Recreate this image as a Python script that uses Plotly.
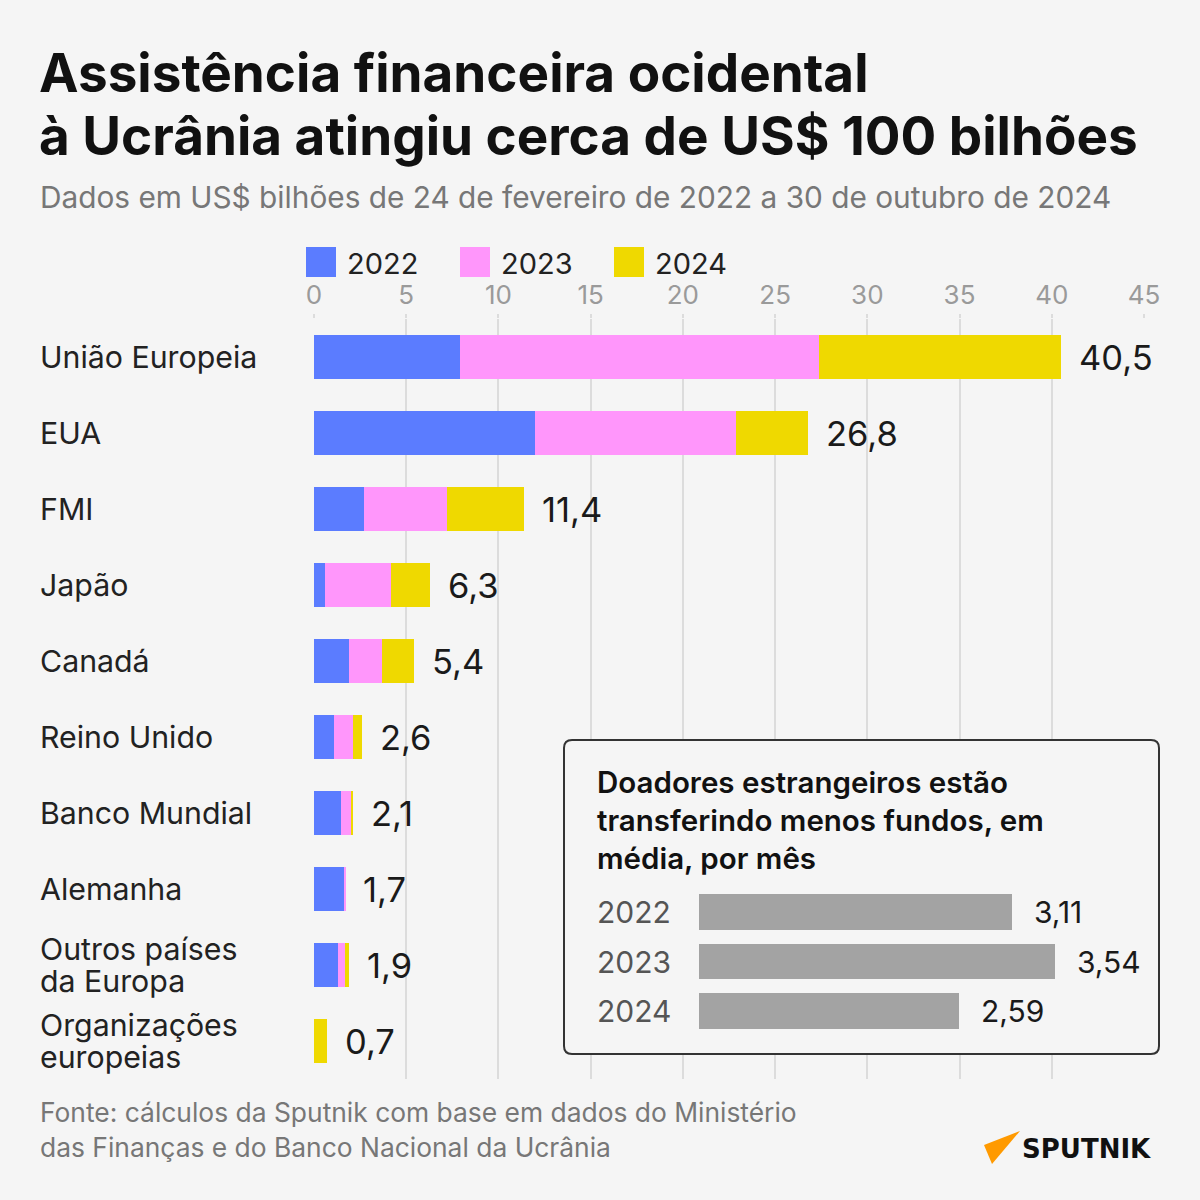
import plotly.graph_objects as go

# ---------------- data ----------------
categories = ["União Europeia", "EUA", "FMI", "Japão", "Canadá", "Reino Unido",
              "Banco Mundial", "Alemanha", "Outros países<br>da Europa",
              "Organizações<br>europeias"]
years = ["2022", "2023", "2024"]
v2022 = [7.9, 12.0, 2.7, 0.6, 1.9, 1.1, 1.45, 1.65, 1.3, 0.0]
v2023 = [19.5, 10.9, 4.5, 3.6, 1.8, 1.0, 0.6, 0.05, 0.4, 0.0]
v2024 = [13.1, 3.9, 4.2, 2.1, 1.7, 0.5, 0.05, 0.0, 0.2, 0.7]
totals = [40.5, 26.8, 11.4, 6.3, 5.4, 2.6, 2.1, 1.7, 1.9, 0.7]
x_ticks = [0, 5, 10, 15, 20, 25, 30, 35, 40, 45]

avg_years = ["2022", "2023", "2024"]
avg_values = [3.11, 3.54, 2.59]

# ---------------- style ----------------
W = H = 1200
BG = "#f5f5f5"
colors = ["#5b7cff", "#ff96fb", "#efd900"]
FONT = "Inter"


def X(px):
    return px / W


def Y(py):
    return 1 - py / H


def fmt(v, d=1):
    return f"{v:.{d}f}".replace(".", ",")


def ptext(text, px, py, size, color="#222", weight=400, family=FONT, anchor="left"):
    return dict(text=text, x=X(px), y=Y(py), xref="paper", yref="paper",
                xanchor=anchor, yanchor="middle", align="left", showarrow=False,
                font=dict(family=family, size=size, color=color, weight=weight))


fig = go.Figure()

for name, vals, col in zip(years, [v2022, v2023, v2024], colors):
    fig.add_trace(go.Bar(
        x=vals, y=categories, orientation="h", name=name,
        marker=dict(color=col, line=dict(width=0)), width=0.58,
        xaxis="x", yaxis="y", showlegend=False, hoverinfo="skip"))

fig.add_trace(go.Bar(
    x=avg_values, y=avg_years, orientation="h",
    marker=dict(color="#a3a3a3", line=dict(width=0)), width=0.72,
    xaxis="x2", yaxis="y2", showlegend=False, hoverinfo="skip"))

annotations = []
shapes = []

# Title / subtitle
annotations.append(ptext("Assistência financeira ocidental", 37, 73, 53, "#111", 700))
annotations.append(ptext("à Ucrânia atingiu cerca de US$ 100 bilhões", 37, 136, 53, "#111", 700))
annotations.append(ptext("Dados em US$ bilhões de 24 de fevereiro de 2022 a 30 de outubro de 2024",
                         38, 197, 29.8, "#777"))

# Legend
leg_sq = [306, 460, 614]
for lx, name, col in zip(leg_sq, years, colors):
    shapes.append(dict(type="rect", xref="paper", yref="paper",
                       x0=X(lx), x1=X(lx + 30), y0=Y(277), y1=Y(247),
                       fillcolor=col, line=dict(width=0)))
    annotations.append(ptext(name, lx + 39, 263, 29, "#222"))

# Category labels (multi-line labels split for tighter line spacing)
for c in categories:
    parts = c.split("<br>")
    n = len(parts)
    for j, part in enumerate(parts):
        annotations.append(dict(text=part, x=X(38), xref="paper", y=c, yref="y",
                                xanchor="left", yanchor="middle", align="left",
                                yshift=(n - 1) * 16 - 32 * j,
                                showarrow=False,
                                font=dict(family=FONT, size=30.3, color="#222")))

# Total labels
for c, t in zip(categories, totals):
    annotations.append(dict(text=fmt(t), x=t, xref="x", y=c, yref="y",
                            xanchor="left", yanchor="middle", xshift=16,
                            showarrow=False,
                            font=dict(family=FONT, size=34.5, color="#1a1a1a")))

# Inset box
bx0, by0, bx1, by1, r = 564, 740, 1159, 1054, 8
path = (f"M {X(bx0+r)},{Y(by0)} L {X(bx1-r)},{Y(by0)} Q {X(bx1)},{Y(by0)} {X(bx1)},{Y(by0+r)} "
        f"L {X(bx1)},{Y(by1-r)} Q {X(bx1)},{Y(by1)} {X(bx1-r)},{Y(by1)} "
        f"L {X(bx0+r)},{Y(by1)} Q {X(bx0)},{Y(by1)} {X(bx0)},{Y(by1-r)} "
        f"L {X(bx0)},{Y(by0+r)} Q {X(bx0)},{Y(by0)} {X(bx0+r)},{Y(by0)} Z")
shapes.append(dict(type="path", xref="paper", yref="paper", path=path,
                   line=dict(color="#333", width=2), fillcolor="rgba(0,0,0,0)",
                   layer="above"))

for i, line in enumerate(["Doadores estrangeiros estão",
                          "transferindo menos fundos, em",
                          "média, por mês"]):
    annotations.append(ptext(line, 595, 782 + 38 * i, 29.5, "#111", 600))

for idx, (yr, v) in enumerate(zip(avg_years, avg_values)):
    annotations.append(dict(text=yr, x=X(595), xref="paper", y=idx, yref="y2",
                            xanchor="left", yanchor="middle", showarrow=False,
                            font=dict(family=FONT, size=30, color="#555")))
    annotations.append(dict(text=fmt(v, 2), x=v, xref="x2", y=idx, yref="y2",
                            xanchor="left", yanchor="middle", xshift=20, showarrow=False,
                            font=dict(family=FONT, size=30, color="#1a1a1a")))

# Footer
annotations.append(ptext("Fonte: cálculos da Sputnik com base em dados do Ministério",
                         38, 1112, 26.4, "#777"))
annotations.append(ptext("das Finanças e do Banco Nacional da Ucrânia", 38, 1147, 26.4, "#777"))

# Sputnik logo
tri = f"M {X(984)},{Y(1145)} L {X(1020)},{Y(1131)} L {X(992)},{Y(1164)} Z"
shapes.append(dict(type="path", xref="paper", yref="paper", path=tri,
                   fillcolor="#ff9a00", line=dict(width=0)))
annotations.append(ptext("SPUTNIK", 1020, 1149, 26, "#111", 700, "DejaVu Sans"))

# inset axis ranges (pixel mapping)
k = 101.0
x2_range = [-(698 - bx0) / k, (bx1 - 698) / k]
y2_range = [2 + (by1 - 1012) / 50, -(912 - by0) / 50]

fig.update_layout(
    width=W, height=H,
    margin=dict(l=0, r=0, t=0, b=0, autoexpand=False),
    paper_bgcolor=BG, plot_bgcolor=BG,
    barmode="stack",
    showlegend=False,
    font=dict(family=FONT),
    xaxis=dict(domain=[X(314), X(1144)], range=[0, 45], side="top",
               tickvals=x_ticks, ticktext=[str(t) for t in x_ticks],
               showgrid=True, gridcolor="#dcdcdc", gridwidth=1.5,
               zeroline=False, showline=False, automargin=False,
               ticks="outside", ticklen=4, tickcolor="#dcdcdc", tickwidth=1.5,
               tickfont=dict(family=FONT, size=26, color="#9a9a9a"),
               anchor="y", fixedrange=True),
    yaxis=dict(domain=[Y(1079), Y(319)], type="category",
               categoryorder="array", categoryarray=categories,
               range=[9.5, -0.5], showticklabels=False, showgrid=False,
               zeroline=False, showline=False, ticks="", anchor="x",
               automargin=False),
    xaxis2=dict(domain=[X(bx0 + 1), X(bx1 - 1)], range=x2_range, visible=False,
                showgrid=False, zeroline=False, anchor="y2", automargin=False),
    yaxis2=dict(domain=[Y(by1 - 1), Y(by0 + 1)], type="category",
                categoryorder="array", categoryarray=avg_years,
                range=y2_range, visible=False, showgrid=False, zeroline=False,
                anchor="x2", automargin=False),
    annotations=annotations,
    shapes=shapes,
)

fig.write_html("out.html")
